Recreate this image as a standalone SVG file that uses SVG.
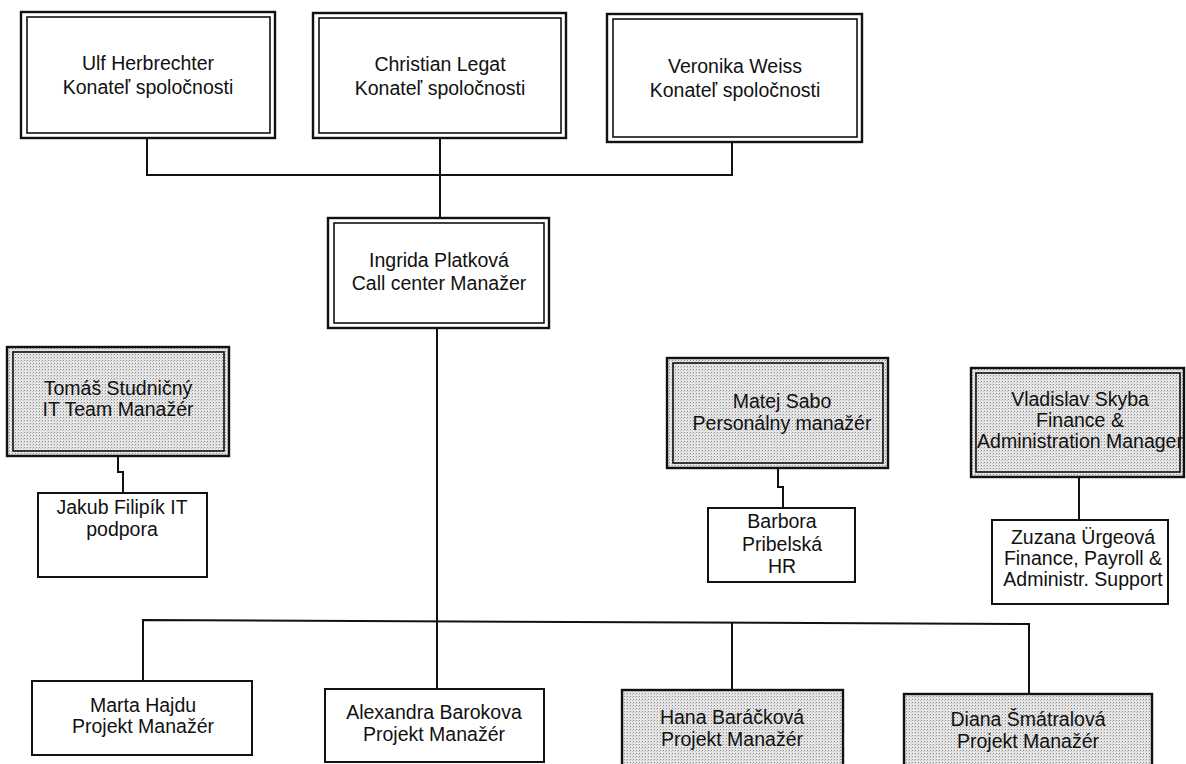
<svg xmlns="http://www.w3.org/2000/svg" width="1186" height="764" viewBox="0 0 1186 764">
<style>
  .o { fill: none; stroke: #111; stroke-width: 2.4; }
  .i { fill: none; stroke: #111; stroke-width: 1.6; }
  .s { fill: #fff; stroke: #111; stroke-width: 2; }
  .sh { fill: url(#dots); }
  .w { fill: #fff; }
  .t { font-family: "Liberation Sans", Arial, sans-serif; font-size: 19.5px; fill: #111; text-anchor: middle; }
  .c { fill: none; stroke: #111; stroke-width: 2; }
</style>
<defs>
  <pattern id="dots" width="3" height="3" patternUnits="userSpaceOnUse">
    <rect width="3" height="3" fill="#e6e6e6"/>
    <rect x="0" y="0" width="1" height="1" fill="#8c8c8c"/>
    <rect x="2" y="1" width="1" height="1" fill="#c4c4c4"/>
  </pattern>
</defs>
<rect width="1186" height="764" fill="#fff"/>

<g id="connectors">
  <polyline class="c" points="147,138 147,175 732,175 732,142"/>
  <line class="c" x1="440" y1="138" x2="440" y2="218"/>
  <line class="c" x1="437" y1="328" x2="437" y2="689"/>
  <polyline class="c" points="143,681 143,620 1029,624 1029,694"/>
  <line class="c" x1="732" y1="622" x2="732" y2="690"/>
  <polyline class="c" points="118,456 118,472 123,472 123,493"/>
  <polyline class="c" points="778,468 778,487 783,487 783,508"/>
  <line class="c" x1="1079" y1="477" x2="1079" y2="520"/>
</g>

<g id="ulf">
  <rect class="w" x="21" y="12" width="254" height="126"/>
  <rect class="o" x="21" y="12" width="254" height="126"/>
  <rect class="i" x="27" y="17" width="243" height="116"/>
  <text class="t" x="148" y="70">Ulf Herbrechter</text>
  <text class="t" x="148" y="94">Konateľ spoločnosti</text>
</g>
<g id="christian">
  <rect class="w" x="313" y="13" width="253" height="125"/>
  <rect class="o" x="313" y="13" width="253" height="125"/>
  <rect class="i" x="319" y="18" width="242" height="115"/>
  <text class="t" x="440" y="71">Christian Legat</text>
  <text class="t" x="440" y="95">Konateľ spoločnosti</text>
</g>
<g id="veronika">
  <rect class="w" x="607" y="14" width="255" height="128"/>
  <rect class="o" x="607" y="14" width="255" height="128"/>
  <rect class="i" x="613" y="19" width="244" height="118"/>
  <text class="t" x="735" y="73">Veronika Weiss</text>
  <text class="t" x="735" y="97">Konateľ spoločnosti</text>
</g>
<g id="ingrida">
  <rect class="w" x="328" y="218" width="221" height="110"/>
  <rect class="o" x="328" y="218" width="221" height="110"/>
  <rect class="i" x="334" y="223" width="210" height="100"/>
  <text class="t" x="439" y="267">Ingrida Platková</text>
  <text class="t" x="439" y="290">Call center Manažer</text>
</g>
<g id="tomas">
  <rect class="sh" x="7" y="347" width="222" height="109"/>
  <rect class="o" x="7" y="347" width="222" height="109"/>
  <rect class="i" x="13" y="352" width="211" height="99"/>
  <text class="t" x="118" y="395">Tomáš Studničný</text>
  <text class="t" x="118" y="416">IT Team Manažér</text>
</g>
<g id="jakub">
  <rect class="s" x="38" y="493" width="169" height="84"/>
  <text class="t" x="122" y="514">Jakub Filipík IT</text>
  <text class="t" x="122" y="536">podpora</text>
</g>
<g id="matej">
  <rect class="sh" x="667" y="358" width="221" height="110"/>
  <rect class="o" x="667" y="358" width="221" height="110"/>
  <rect class="i" x="673" y="363" width="210" height="100"/>
  <text class="t" x="782" y="408">Matej Sabo</text>
  <text class="t" x="782" y="430">Personálny manažér</text>
</g>
<g id="barbora">
  <rect class="s" x="708" y="508" width="147" height="74"/>
  <text class="t" x="782" y="528">Barbora</text>
  <text class="t" x="782" y="551">Pribelská</text>
  <text class="t" x="782" y="573">HR</text>
</g>
<g id="vladislav">
  <rect class="sh" x="971" y="368" width="213" height="109"/>
  <rect class="o" x="971" y="368" width="213" height="109"/>
  <rect class="i" x="976" y="373" width="204" height="99"/>
  <text class="t" x="1080" y="406">Vladislav Skyba</text>
  <text class="t" x="1080" y="427">Finance &amp;</text>
  <text class="t" x="1080" y="448">Administration Manager</text>
</g>
<g id="zuzana">
  <rect class="s" x="992" y="520" width="176" height="84"/>
  <text class="t" x="1083" y="544">Zuzana Ürgeová</text>
  <text class="t" x="1083" y="565">Finance, Payroll &amp;</text>
  <text class="t" x="1083" y="586">Administr. Support</text>
</g>
<g id="marta">
  <rect class="s" x="32" y="681" width="220" height="74"/>
  <text class="t" x="143" y="712">Marta Hajdu</text>
  <text class="t" x="143" y="733">Projekt Manažér</text>
</g>
<g id="alexandra">
  <rect class="s" x="325" y="689" width="219" height="73"/>
  <text class="t" x="434" y="719">Alexandra Barokova</text>
  <text class="t" x="434" y="741">Projekt Manažér</text>
</g>
<g id="hana">
  <rect class="sh" x="622" y="690" width="221" height="80"/>
  <rect class="o" x="622" y="690" width="221" height="80"/>
  <text class="t" x="732" y="724">Hana Baráčková</text>
  <text class="t" x="732" y="746">Projekt Manažér</text>
</g>
<g id="diana">
  <rect class="sh" x="904" y="694" width="248" height="80"/>
  <rect class="o" x="904" y="694" width="248" height="80"/>
  <text class="t" x="1028" y="726">Diana Šmátralová</text>
  <text class="t" x="1028" y="748">Projekt Manažér</text>
</g>
</svg>
